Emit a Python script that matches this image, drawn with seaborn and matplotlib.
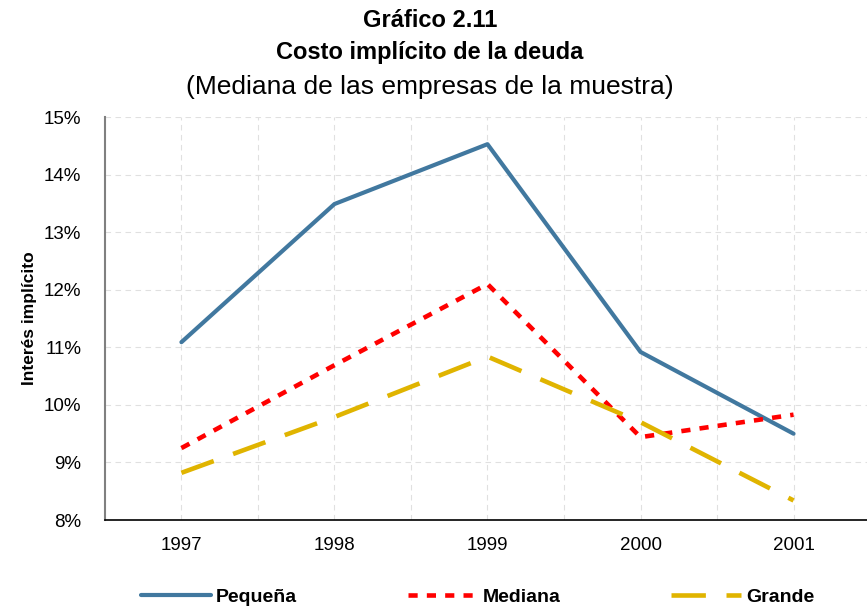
import numpy as np
import pandas as pd
import matplotlib
matplotlib.use("Agg")
import matplotlib.pyplot as plt
import seaborn as sns
from matplotlib.ticker import FuncFormatter, FixedLocator

# data
years = [1997, 1998, 1999, 2000, 2001]
pequena = [11.09, 13.49, 14.53, 10.92, 9.50]
mediana = [9.25, 10.69, 12.10, 9.44, 9.83]
grande = [8.82, 9.79, 10.84, 9.70, 8.34]
series_names = ["Pequeña", "Mediana", "Grande"]

df = pd.DataFrame({
    "year": years * 3,
    "value": pequena + mediana + grande,
    "serie": [s for s in series_names for _ in years],
})

sns.set_style("white")
plt.rcParams['font.family'] = ['Liberation Sans', 'DejaVu Sans']
plt.rcParams['text.color'] = 'black'
plt.rcParams['axes.labelcolor'] = 'black'
plt.rcParams['xtick.labelcolor'] = 'black'
plt.rcParams['ytick.labelcolor'] = 'black'

palette = {"Pequeña": "#41789F", "Mediana": "#FF0000", "Grande": "#E0B400"}
dashes = {"Pequeña": "", "Mediana": (2, 2), "Grande": (7.5, 4.5)}

fig = plt.figure(figsize=(8.67, 6.10), dpi=100)
ax = fig.add_axes([0.121, 0.1475, 0.879, 0.6605])

sns.lineplot(data=df, x="year", y="value", hue="serie", style="serie",
             palette=palette, dashes=dashes, linewidth=3, ax=ax, legend=False)
# thicker broken lines like the original
for line, name in zip(ax.get_lines(), series_names):
    if name != "Pequeña":
        line.set_linewidth(3.3)

ax.set_xlim(1996.5, 2001.48)
ax.set_ylim(8, 15)
ax.set_yticks(np.arange(8, 16, 1))
ax.yaxis.set_major_formatter(FuncFormatter(lambda v, p: f"{v:.0f}%"))
ax.set_xticks(years)
ax.xaxis.set_minor_locator(FixedLocator([1997.5, 1998.5, 1999.5, 2000.5]))
ax.tick_params(axis="x", which="major", length=0, labelsize=13.5, pad=12)
ax.tick_params(axis="x", which="minor", length=5, width=1, color="black", direction="out")
ax.tick_params(axis="y", length=5, width=1, labelsize=13.5, color="#808080", direction="out", pad=12)

# dashed grid at categories and boundaries
for yv in np.arange(9, 16, 1):
    ax.axhline(yv, color="#E0E0E0", linestyle=(0, (5, 4)), linewidth=0.8, zorder=0)
for xv in np.arange(1997, 2002, 0.5):
    ax.axvline(xv, color="#E0E0E0", linestyle=(0, (5, 4)), linewidth=0.8, zorder=0)

for s in ["top", "right"]:
    ax.spines[s].set_visible(False)
ax.spines["left"].set_color("#808080")
ax.spines["left"].set_linewidth(1.5)
ax.spines["bottom"].set_color("black")
ax.spines["bottom"].set_linewidth(1.2)

ax.set_xlabel("")
ax.set_ylabel("Interés implícito", fontsize=12.5, fontweight="bold", labelpad=5)

fig.text(0.496, 0.966, "Gráfico 2.11", ha="center", va="center", fontsize=17, fontweight="bold")
fig.text(0.496, 0.914, "Costo implícito de la deuda", ha="center", va="center", fontsize=17, fontweight="bold")
fig.text(0.496, 0.858, "(Mediana de las empresas de la muestra)", ha="center", va="center", fontsize=19)

handles = [plt.Line2D([], [], color=palette[n], linewidth=lw, linestyle=ls)
           for n, lw, ls in [("Pequeña", 3, "-"), ("Mediana", 3.3, (0, (2, 2))), ("Grande", 3.3, (0, (7.5, 4.5)))]]
fig.legend(handles, series_names, loc="center", bbox_to_anchor=(0.551, 0.021), ncol=3,
           frameon=False, handlelength=3.6, handletextpad=0.25, columnspacing=5.7,
           prop={"weight": "bold", "size": 14})

fig.savefig("out.png", dpi=100)
